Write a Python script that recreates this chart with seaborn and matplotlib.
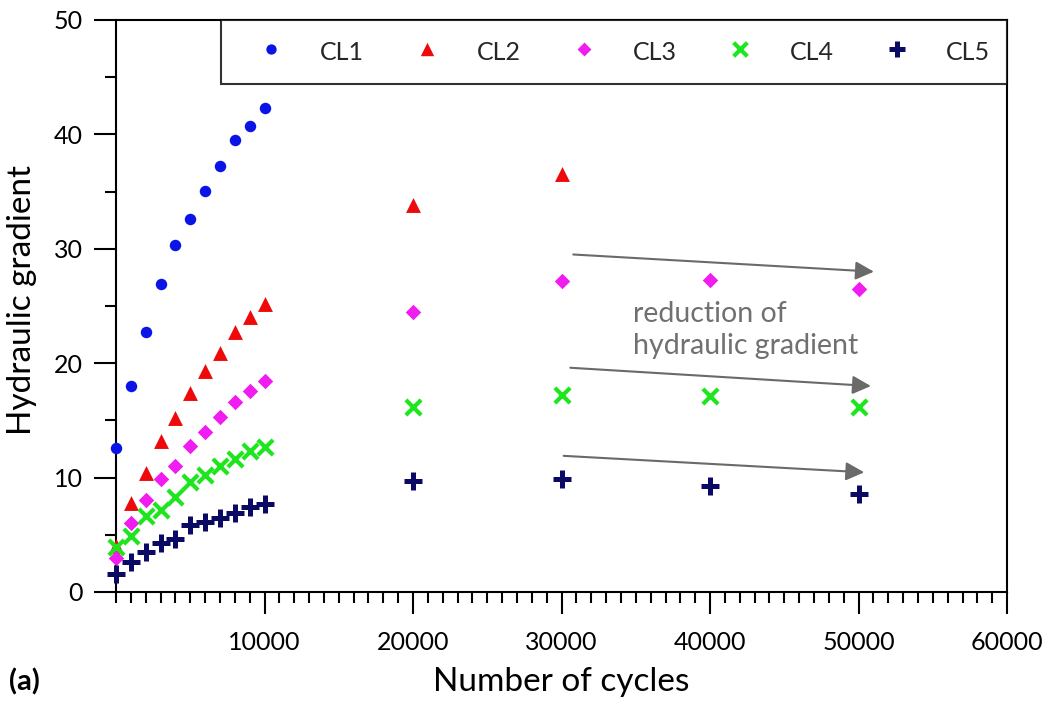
import matplotlib
matplotlib.use("Agg")
import matplotlib.pyplot as plt
from matplotlib.ticker import MultipleLocator, FixedLocator
import seaborn as sns
import pandas as pd

# Measured hydraulic gradient versus number of loading cycles
cycles_early = [0, 1000, 2000, 3000, 4000, 5000, 6000, 7000, 8000, 9000, 10000]

cl1_cycles = cycles_early
cl1_values = [12.6, 18.0, 22.75, 26.9, 30.3, 32.6, 35.05, 37.2, 39.5, 40.7, 42.3]

cl2_cycles = cycles_early + [20000, 30000]
cl2_values = [4.05, 7.75, 10.4, 13.2, 15.2, 17.4, 19.3, 20.9, 22.75, 24.0, 25.2,
              33.8, 36.5]

cl3_cycles = cycles_early + [20000, 30000, 40000, 50000]
cl3_values = [2.95, 6.0, 8.0, 9.85, 11.05, 12.8, 14.0, 15.3, 16.6, 17.6, 18.45,
              24.5, 27.15, 27.3, 26.5]

cl4_cycles = cycles_early + [20000, 30000, 40000, 50000]
cl4_values = [3.96, 4.9, 6.6, 7.2, 8.3, 9.6, 10.2, 11.0, 11.6, 12.35, 12.65,
              16.2, 17.25, 17.1, 16.2]

cl5_cycles = cycles_early + [20000, 30000, 40000, 50000]
cl5_values = [1.55, 2.65, 3.5, 4.25, 4.6, 5.85, 6.15, 6.5, 6.9, 7.4, 7.7,
              9.7, 9.9, 9.3, 8.6]

series_names = ["CL1", "CL2", "CL3", "CL4", "CL5"]

# Trend arrows (start, end) in data units
arrow_starts = [(30790, 29.5), (30590, 19.6), (30140, 11.9)]
arrow_ends = [(51030, 28.0), (50830, 18.0), (50380, 10.46)]

x_major_ticks = [10000, 20000, 30000, 40000, 50000, 60000]
y_major_ticks = [0, 10, 20, 30, 40, 50]

sns.set_theme(style="white")
plt.rcParams["font.family"] = ["Lato", "DejaVu Sans"]

fig = plt.figure(figsize=(10.51, 7.06), dpi=100)
ax = fig.add_axes([0.1104, 0.1615, 0.8478, 0.8102])

frames = []
for name, xs, ys in zip(series_names,
                        [cl1_cycles, cl2_cycles, cl3_cycles, cl4_cycles, cl5_cycles],
                        [cl1_values, cl2_values, cl3_values, cl4_values, cl5_values]):
    frames.append(pd.DataFrame({"cycles": xs, "gradient": ys, "series": name}))
df = pd.concat(frames, ignore_index=True)

styles = {
    "CL1": dict(marker="o", color="#0a14e6", s=68, linewidth=0),
    "CL2": dict(marker="^", color="#ee0a0a", s=115, linewidth=0),
    "CL3": dict(marker="D", color="#f01cf0", s=62, linewidth=0),
    "CL4": dict(marker="x", color="#1ee61e", s=120, linewidth=3.0),
    "CL5": dict(marker="+", color="#0a0a64", s=170, linewidth=3.6),
}

for name in series_names:
    sub = df[df["series"] == name]
    st = styles[name]
    sns.scatterplot(data=sub, x="cycles", y="gradient", ax=ax, label=name,
                    marker=st["marker"], color=st["color"], s=st["s"],
                    linewidth=st["linewidth"], clip_on=False, zorder=3)

ax.set_xlim(0, 60000)
ax.set_ylim(0, 50)

ax.xaxis.set_major_locator(FixedLocator(x_major_ticks))
ax.xaxis.set_minor_locator(MultipleLocator(1000))
ax.yaxis.set_major_locator(FixedLocator(y_major_ticks))
ax.yaxis.set_minor_locator(MultipleLocator(5))

ax.tick_params(axis="both", which="major", direction="out", length=16, width=1.5,
               color="black", labelsize=18, labelcolor="black",
               bottom=True, left=True, top=False, right=False)
ax.tick_params(axis="both", which="minor", direction="out", length=8, width=1.5,
               color="black", bottom=True, left=True, top=False, right=False)
ax.tick_params(axis="x", which="major", pad=12)
ax.tick_params(axis="y", which="major", pad=8)

for sp in ax.spines.values():
    sp.set_visible(True)
    sp.set_color("black")
    sp.set_linewidth(1.5)

ax.set_xlabel("Number of cycles", fontsize=24, color="black")
ax.set_ylabel("Hydraulic gradient", fontsize=24, color="black")
ax.xaxis.set_label_coords(0.5, -0.132)
ax.yaxis.set_label_coords(-0.089, 0.51)

# Trend arrows and annotation
for (x0, y0), (x1, y1) in zip(arrow_starts, arrow_ends):
    ax.annotate("", xy=(x1, y1), xytext=(x0, y0),
                arrowprops=dict(arrowstyle="-|>", color="#6a6a6a", lw=1.5,
                                mutation_scale=28, shrinkA=0, shrinkB=0),
                zorder=2)
ax.text(34800, 22.9, "reduction of\nhydraulic gradient", fontsize=20.5,
        color="#707070", ha="left", va="center", linespacing=1.3)

leg = ax.legend(loc="upper right", bbox_to_anchor=(1.0, 1.0),
                ncol=5, frameon=True, fancybox=False,
                edgecolor="black", fontsize=18, markerscale=0.9,
                borderaxespad=0, borderpad=0.68, handletextpad=0.64,
                handlelength=2.64, handleheight=1.5, columnspacing=1.22)
leg.get_frame().set_linewidth(1.5)
leg.set_zorder(5)

fig.text(0.009, 0.022, "(a)", fontsize=21, fontweight="bold", color="black")

fig.savefig("out.png", dpi=100)
